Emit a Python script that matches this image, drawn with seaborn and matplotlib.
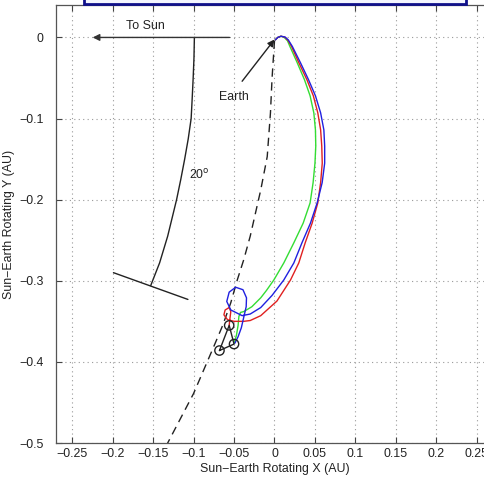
import numpy as np
import pandas as pd
import matplotlib
matplotlib.use("Agg")
import matplotlib.pyplot as plt
from matplotlib.patches import Rectangle
import seaborn as sns

# ---- data ----
blue_x = [0.001, 0.004, 0.008, 0.013, 0.017, 0.022, 0.032, 0.042, 0.0506, 0.057, 0.061, 0.062, 0.062,
          0.0589, 0.0527, 0.0444, 0.034, 0.0239, 0.0115, -0.003, -0.017, -0.030, -0.040, -0.046,
          -0.054, -0.059, -0.056, -0.048, -0.039, -0.0346, -0.035, -0.038, -0.041, -0.045, -0.049]
blue_y = [-0.003, 0.000, 0.0015, 0.0005, -0.003, -0.011, -0.031, -0.052, -0.072, -0.093, -0.114, -0.134, -0.155,
          -0.179, -0.204, -0.229, -0.253, -0.278, -0.299, -0.318, -0.333, -0.341, -0.343, -0.340,
          -0.336, -0.3255, -0.314, -0.308, -0.311, -0.321, -0.332, -0.345, -0.358, -0.369, -0.377]

red_x = [0.001, 0.004, 0.008, 0.013, 0.017, 0.021, 0.030, 0.040, 0.048, 0.0535, 0.057, 0.0584, 0.059,
         0.057, 0.0535, 0.0465, 0.038, 0.030, 0.0198, 0.003, -0.017, -0.030, -0.038, -0.050,
         -0.058, -0.0625, -0.061, -0.056, -0.054, -0.055, -0.056]
red_y = [-0.003, 0.000, 0.0015, 0.0003, -0.004, -0.011, -0.031, -0.052, -0.072, -0.093, -0.114, -0.134, -0.155,
         -0.179, -0.204, -0.229, -0.253, -0.278, -0.299, -0.325, -0.343, -0.349, -0.350, -0.350,
         -0.348, -0.342, -0.336, -0.333, -0.338, -0.346, -0.355]

green_x = [0.001, 0.004, 0.008, 0.012, 0.016, 0.019, 0.028, 0.037, 0.044, 0.0486, 0.0506, 0.051, 0.050,
           0.0477, 0.044, 0.0354, 0.024, 0.0115, -0.0008, -0.010, -0.017, -0.028, -0.038, -0.042,
           -0.044, -0.045, -0.047, -0.0498]
green_y = [-0.003, 0.000, 0.0015, 0.000, -0.004, -0.011, -0.031, -0.052, -0.072, -0.093, -0.114, -0.134, -0.155,
           -0.179, -0.204, -0.229, -0.253, -0.278, -0.299, -0.312, -0.321, -0.332, -0.338, -0.339,
           -0.344, -0.355, -0.367, -0.377]

dash_x = [0.000, -0.003, -0.005, -0.009, -0.017, -0.030, -0.038, -0.046, -0.054, -0.064, -0.075, -0.100, -0.132, -0.140]
dash_y = [-0.004, -0.050, -0.093, -0.147, -0.188, -0.245, -0.274, -0.299, -0.327, -0.355, -0.381, -0.439, -0.500, -0.515]

arc_x = [-0.099, -0.0995, -0.1005, -0.1017, -0.103, -0.1066, -0.111, -0.1158, -0.121, -0.132, -0.142, -0.153]
arc_y = [0.000, -0.025, -0.050, -0.075, -0.100, -0.125, -0.150, -0.175, -0.200, -0.245, -0.278, -0.306]

cross_x = [-0.199, -0.107]
cross_y = [-0.290, -0.323]

circle_x = [-0.056, -0.068, -0.050]
circle_y = [-0.355, -0.386, -0.378]

x_ticks = [-0.25, -0.2, -0.15, -0.1, -0.05, 0, 0.05, 0.1, 0.15, 0.2, 0.25]
x_labels = ["\u22120.25", "\u22120.2", "\u22120.15", "\u22120.1", "\u22120.05", "0", "0.05", "0.1", "0.15", "0.2", "0.25"]
y_ticks = [-0.5, -0.4, -0.3, -0.2, -0.1, 0]
y_labels = ["\u22120.5", "\u22120.4", "\u22120.3", "\u22120.2", "\u22120.1", "0"]

# ---- style ----
sns.set_theme(style="ticks")
plt.rcParams["font.family"] = ["Liberation Sans", "DejaVu Sans"]
FS = 8.9
plt.rcParams.update({"font.size": FS, "axes.labelsize": FS, "xtick.labelsize": FS,
                     "ytick.labelsize": FS})

fig = plt.figure(figsize=(4.85, 4.8), dpi=100)
fig.patch.set_facecolor("white")
ax = fig.add_axes([56 / 485, 37 / 480, 437 / 485, 438 / 480])
ax.set_facecolor("white")

def line(xs, ys, **kw):
    df = pd.DataFrame({"x": xs, "y": ys})
    sns.lineplot(data=df, x="x", y="y", sort=False, estimator=None, ax=ax, **kw)

line(dash_x, dash_y, color="#222222", linewidth=1.0, linestyle=(0, (6, 4)))
line(arc_x, arc_y, color="#222222", linewidth=1.0)
line(cross_x, cross_y, color="#222222", linewidth=1.0)
line(green_x, green_y, color="#33dd33", linewidth=1.0)
line(red_x, red_y, color="#e02020", linewidth=1.0)
line(blue_x, blue_y, color="#2020e0", linewidth=1.0)

# triangle between the end points
tri_x = [circle_x[1], circle_x[0], circle_x[2], circle_x[1]]
tri_y = [circle_y[1], circle_y[0], circle_y[2], circle_y[1]]
line(tri_x, tri_y, color="#222222", linewidth=1.0)
sns.scatterplot(x=circle_x, y=circle_y, ax=ax, s=45, facecolor="none", edgecolor="#222222",
                linewidth=1.0, zorder=5)

# annotations
ax.annotate("", xy=(-0.2247, 0.0), xytext=(-0.0556, 0.0),
            arrowprops=dict(arrowstyle="-|>", color="#333333", lw=1.0, mutation_scale=10,
                            shrinkA=0, shrinkB=0))
ax.text(-0.16, 0.0136, "To Sun", ha="center", va="center", color="#222222")
ax.annotate("", xy=(0.0, -0.0025), xytext=(-0.040, -0.054),
            arrowprops=dict(arrowstyle="-|>", color="#222222", lw=1.0, mutation_scale=10,
                            shrinkA=0, shrinkB=0))
ax.text(-0.0506, -0.074, "Earth", ha="center", va="center", color="#222222")
ax.text(-0.093, -0.169, "20$^{\\mathrm{o}}$", ha="center", va="center", color="#222222")

ax.set_xlim(-0.27, 0.27)
ax.set_ylim(-0.5, 0.04)
ax.set_xticks(x_ticks)
ax.set_xticklabels(x_labels)
ax.set_yticks(y_ticks)
ax.set_yticklabels(y_labels)
ax.grid(True, linestyle=(0, (1, 3)), color="#999999", linewidth=0.8)
ax.tick_params(direction="in", length=4, width=0.8, color="#444444", top=True, right=True,
               labelcolor="#222222")
ax.tick_params(axis="x", pad=3.5)
ax.tick_params(axis="y", pad=9)
for s in ax.spines.values():
    s.set_color("#555555")
    s.set_linewidth(0.9)
ax.set_xlabel("Sun\u2212Earth Rotating X (AU)", labelpad=2, color="#222222")
ax.set_ylabel("Sun\u2212Earth Rotating Y (AU)", labelpad=3, color="#222222")

# partially visible framed title box at the top
fig.patches.append(Rectangle((84 / 485, 476 / 480), 382 / 485, 0.05, transform=fig.transFigure,
                             facecolor="#f4f6ff", edgecolor="#10108a", linewidth=2.0, zorder=10))

fig.savefig("out.png", dpi=100, facecolor="white")
